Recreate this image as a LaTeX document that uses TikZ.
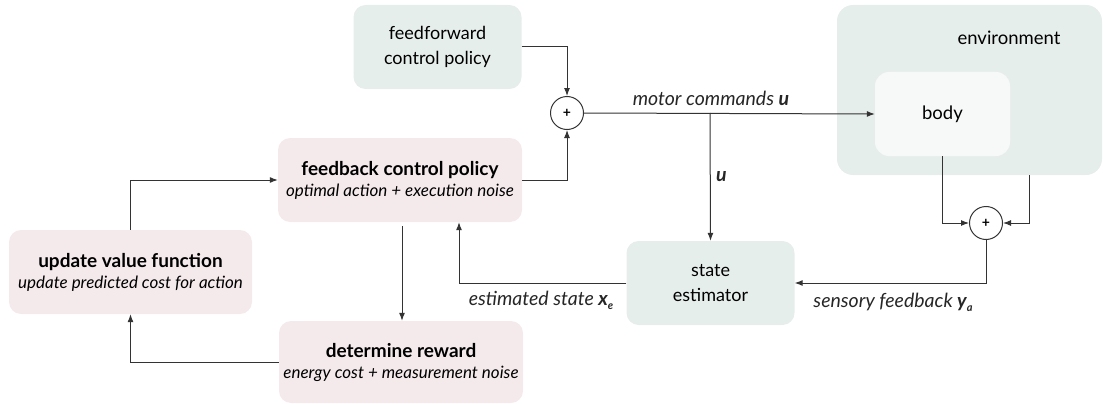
\documentclass[tikz,border=0pt]{standalone}
\usepackage{fontspec}
\setmainfont{Lato}
\usetikzlibrary{arrows.meta}
\definecolor{rosefill}{HTML}{F4EAEC}
\definecolor{tealfill}{HTML}{E6EEEC}
\definecolor{bodyfill}{HTML}{F6F9F8}
\definecolor{linegray}{HTML}{333333}
\newcommand{\bvec}[1]{\textbf{\textit{#1}}}
\newcommand{\bsub}[2]{\bvec{#1}\raisebox{-4pt}{\fontsize{11}{11}\selectfont\bvec{#2}}}
\newcommand{\boxtitle}[1]{{\fontsize{19}{21}\selectfont\bfseries #1}}
\tikzset{
  pinkbox/.style={fill=rosefill, rounded corners=12pt, minimum width=244pt, minimum height=84pt,
    align=center, inner sep=0pt, font=\fontsize{17}{21}\selectfont},
  tealbox/.style={fill=tealfill, rounded corners=12pt, minimum width=168pt, minimum height=84pt,
    align=center, inner sep=0pt, font=\fontsize{18}{25}\selectfont},
  sumnode/.style={circle, draw=linegray, line width=1pt, fill=white, minimum size=33pt,
    inner sep=0pt, font=\fontsize{14}{14}\selectfont\bfseries},
  wire/.style={draw=linegray, line width=1pt, ->},
  lbl/.style={font=\fontsize{19.5}{22}\selectfont\itshape, inner sep=0pt, text=black!85}
}
\begin{document}
\begin{tikzpicture}[x=1pt, y=-1pt, >={Latex[length=8pt,width=6pt]}]
\useasboundingbox (0,0) rectangle (1103,404);
% Umgebung und Koerper
\node[fill=tealfill, rounded corners=16pt, minimum width=265pt, minimum height=170pt] (env) at (969.5,90) {};
\node[font=\fontsize{18.5}{20}\selectfont] (envlbl) at (1009,38) {environment};
\node[fill=bodyfill, rounded corners=14pt, minimum width=135pt, minimum height=84pt,
  font=\fontsize{18.5}{20}\selectfont] (body) at (942.5,114) {body};
% Bloecke
\node[tealbox] (ff) at (437.5,47) {feedforward\\control policy};
\node[tealbox] (se) at (710.5,283) {state\\estimator};
\node[pinkbox] (fb) at (400,180) {\boxtitle{feedback control policy}\\{\itshape optimal action + execution noise}};
\node[pinkbox, minimum width=243pt] (uv) at (130.5,272) {\boxtitle{update value function}\\{\itshape update predicted cost for action}};
\node[pinkbox, minimum height=82pt] (rw) at (401,362) {\boxtitle{determine reward}\\{\itshape energy cost + measurement noise}};
% Summierer
\node[sumnode] (sum1) at (567,113) {+};
\node[sumnode] (sum2) at (986,223) {+};
\coordinate (split) at (710,113);
\coordinate (envout) at (1029,175);
% Verbindungen
\draw[wire] (ff.east) -| (sum1.north);
\draw[wire] (fb.east) -| (sum1.south);
\draw[wire] (sum1.east) -- (body.west);
\draw[wire] (split) -- (se.north);
\draw[wire] (body.south) |- (sum2.west);
\draw[wire] (envout) |- (sum2.east);
\draw[wire] (sum2.south) |- (se.east);
\draw[wire] (se.west) -| ([xshift=59pt]fb.south);
\draw[wire, shorten <=4pt] ([xshift=2pt]fb.south) -- ([xshift=1pt]rw.north);
\draw[wire] (rw.west) -| (uv.south);
\draw[wire] (uv.north) |- (fb.west);
% Beschriftungen
\node[lbl] (mclbl) at (711,98) {motor commands \bvec{u}};
\node[lbl, anchor=west] (ulbl) at (716,177) {\bvec{u}};
\node[lbl] (xelbl) at (541,300) {estimated state \bsub{x}{e}};
\node[lbl] (yalbl) at (893,302) {sensory feedback \bsub{y}{a}};
\end{tikzpicture}
\end{document}
